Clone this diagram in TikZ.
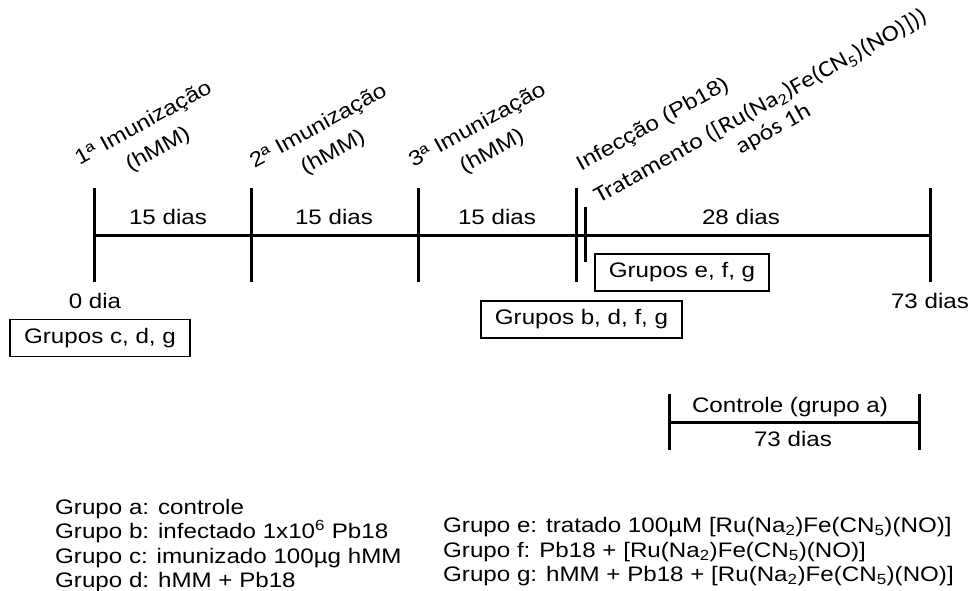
\documentclass[tikz,border=0pt]{standalone}
\usepackage{fontspec}
\setmainfont[FakeStretch=1.15]{Liberation Sans}
\newfontfamily\calfont[FakeStretch=1.12]{Carlito}
\begin{document}
\begin{tikzpicture}[x=1pt,y=-1pt,
  font=\fontsize{21}{24}\selectfont,
  axis/.style={line width=3pt},
  grpbox/.style={draw,line width=1.2pt,inner sep=0pt,minimum height=37pt},
  lbl/.style={anchor=base,inner sep=0pt},
  leg/.style={anchor=base west,inner sep=0pt},
  rot/.style={rotate=29,align=center,inner sep=0pt,font=\fontsize{21}{30}\selectfont}]
\useasboundingbox (0,0) rectangle (970,591);
% timeline coordinates
\coordinate (t0) at (94,235);
\coordinate (t1) at (251,235);
\coordinate (t2) at (418,235);
\coordinate (t3) at (576,235);
\coordinate (t4) at (585,235);
\coordinate (t5) at (930,235);
\draw[axis] (t0) -- (t5);
\foreach \t in {t0,t1,t2,t3,t5}{\draw[axis] (\t) ++(0,-47) -- ++(0,94);}
\draw[axis] (t4) ++(0,-28) -- ++(0,55);
% interval labels
\node[lbl] (d1) at (168,225) {15 dias};
\node[lbl] (d2) at (334,225) {15 dias};
\node[lbl] (d3) at (497,225) {15 dias};
\node[lbl] (d4) at (741,225) {28 dias};
\node[lbl] (z0) at (95,308) {0 dia};
\node[lbl] (z73) at (930,308) {73 dias};
% rotated labels
\node[rot] (im1) at (151,137) {1ª Imunização\\(hMM)};
\node[rot] (im2) at (326,140) {2ª Imunização\\(hMM)};
\node[rot] (im3) at (485,139) {3ª Imunização\\(hMM)};
\node[rot] (inf) at (653,125) {Infecção (Pb18)};
\node[rot,font=\calfont\fontsize{23}{26}\selectfont] (trat) at (767,118)
  {Tratamento ([Ru(Na\textsubscript{2})Fe(CN\textsubscript{5})(NO)]))\\após 1h};
% group boxes
\node[grpbox,minimum width=180pt] (gcdg) at (100,338) {Grupos c, d, g};
\node[grpbox,minimum width=201pt] (gbdfg) at (581.5,319.5) {Grupos b, d, f, g};
\node[grpbox,minimum width=174pt] (gefg) at (682,272.5) {Grupos e, f, g};
% control
\coordinate (c0) at (669,422);
\coordinate (c1) at (919,422);
\draw[axis] (c0) -- (c1);
\foreach \t in {c0,c1}{\draw[axis] (\t) ++(0,-28) -- ++(0,56);}
\node[lbl] (ctl) at (790,412) {Controle (grupo a)};
\node[lbl] (c73) at (793,446) {73 dias};
% legend
\node[leg] (la) at (55,514) {Grupo a: controle};
\node[leg] (lb) at (55,538) {Grupo b: infectado 1x10\textsuperscript{6} Pb18};
\node[leg] (lc) at (55,563) {Grupo c: imunizado 100µg hMM};
\node[leg] (ld) at (55,587) {Grupo d: hMM + Pb18};
\node[leg] (le) at (443,532) {Grupo e: tratado 100µM [Ru(Na\textsubscript{2})Fe(CN\textsubscript{5})(NO)]};
\node[leg] (lf) at (443,557) {Grupo f: Pb18 + [Ru(Na\textsubscript{2})Fe(CN\textsubscript{5})(NO)]};
\node[leg] (lg) at (443,581) {Grupo g: hMM + Pb18 + [Ru(Na\textsubscript{2})Fe(CN\textsubscript{5})(NO)]};
\end{tikzpicture}
\end{document}
